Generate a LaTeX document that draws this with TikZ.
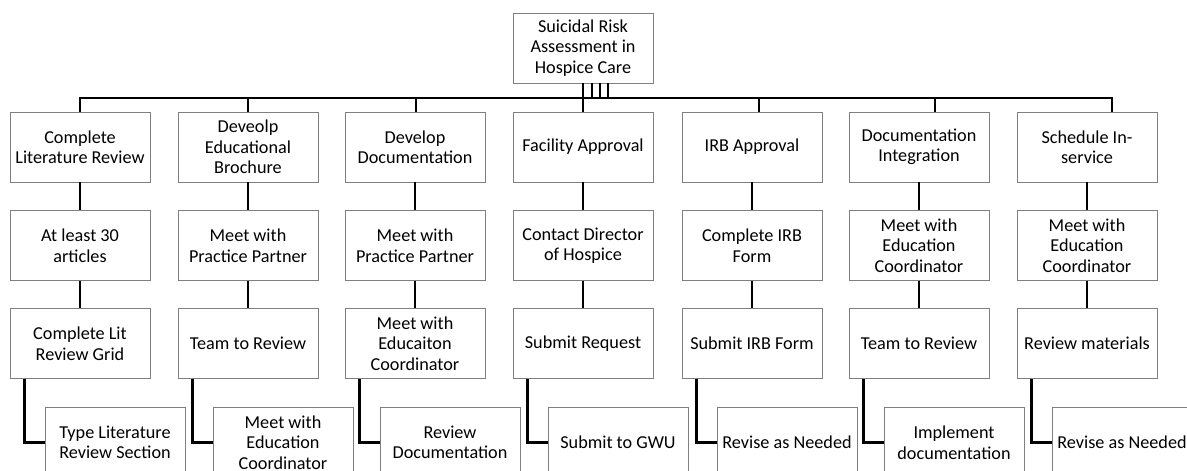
\documentclass[tikz,border=0pt]{standalone}
\usepackage{fontspec}
\setmainfont{Carlito}
\usetikzlibrary{positioning}

\definecolor{boxgray}{HTML}{7F7F7F}

\begin{document}
\begin{tikzpicture}[
    x=1pt, y=-1pt,
    every node/.style={draw=boxgray, line width=0.9pt, rectangle, minimum width=140pt, minimum height=70pt,
        inner sep=1pt, align=center, font=\fontsize{18.2pt}{20.5pt}\selectfont},
    link/.style={line width=2.6pt}
]
\useasboundingbox (0,0) rectangle (1187,471);

\node (root) at (583,48) {Suicidal Risk\\Assessment in\\Hospice Care};

% main tasks
\node (a1) at (80,147)   {Complete\\Literature Review};
\node (a2) at (248,147)  {Deveolp\\Educational\\Brochure};
\node (a3) at (415,147)  {Develop\\Documentation};
\node (a4) at (583,147)  {Facility Approval};
\node (a5) at (752,147)  {IRB Approval};
\node (a6) at (919,147)  {Documentation\\Integration};
\node (a7) at (1087,147) {Schedule In-\\service};

% second step
\node (b1) at (80,245.5)   {At least 30\\articles};
\node (b2) at (248,245.5)  {Meet with\\Practice Partner};
\node (b3) at (415,245.5)  {Meet with\\Practice Partner};
\node (b4) at (583,245.5)  {Contact Director\\of Hospice};
\node (b5) at (752,245.5)  {Complete IRB\\Form};
\node (b6) at (919,245.5)  {Meet with\\Education\\Coordinator};
\node (b7) at (1087,245.5) {Meet with\\Education\\Coordinator};

% third step
\node (c1) at (80,343.5)   {Complete Lit\\Review Grid};
\node (c2) at (248,343.5)  {Team to Review};
\node (c3) at (415,343.5)  {Meet with\\Educaiton\\Coordinator};
\node (c4) at (583,343.5)  {Submit Request};
\node (c5) at (752,343.5)  {Submit IRB Form};
\node (c6) at (919,343.5)  {Team to Review};
\node (c7) at (1087,343.5) {Review materials};

% last step
\node (d1) at (115,442.5)  {Type Literature\\Review Section};
\node (d2) at (283,442.5)  {Meet with\\Education\\Coordinator};
\node (d3) at (450,442.5)  {Review\\Documentation};
\node (d4) at (618,442.5)  {Submit to GWU};
\node (d5) at (787,442.5)  {Revise as Needed};
\node (d6) at (954,442.5)  {Implement\\documentation};
\node (d7) at (1122,442.5) {Revise as Needed};

\coordinate (bus) at (0,98);

% bus from root
\draw[link] (a1.north) |- ([xshift=25pt]a7.north |- bus) -- ([xshift=25pt]a7.north);
\foreach \i/\o in {2/0,3/1,4/0,5/7,6/16}
    \draw[link] ([xshift=\o pt]a\i.north) -- ([xshift=\o pt]a\i.north |- bus);
\foreach \o in {0,9,17,25}
    \draw[line width=2.2pt] ([xshift=\o pt]root.south) -- ([xshift=\o pt]root.south |- bus);

% steps below each task
\foreach \i in {1,...,7} {
    \draw[link] (a\i) -- (b\i);
    \draw[link] (b\i) -- (c\i);
    \draw[link] ([xshift=15pt]c\i.south west) |- (d\i.west);
}
\end{tikzpicture}
\end{document}
